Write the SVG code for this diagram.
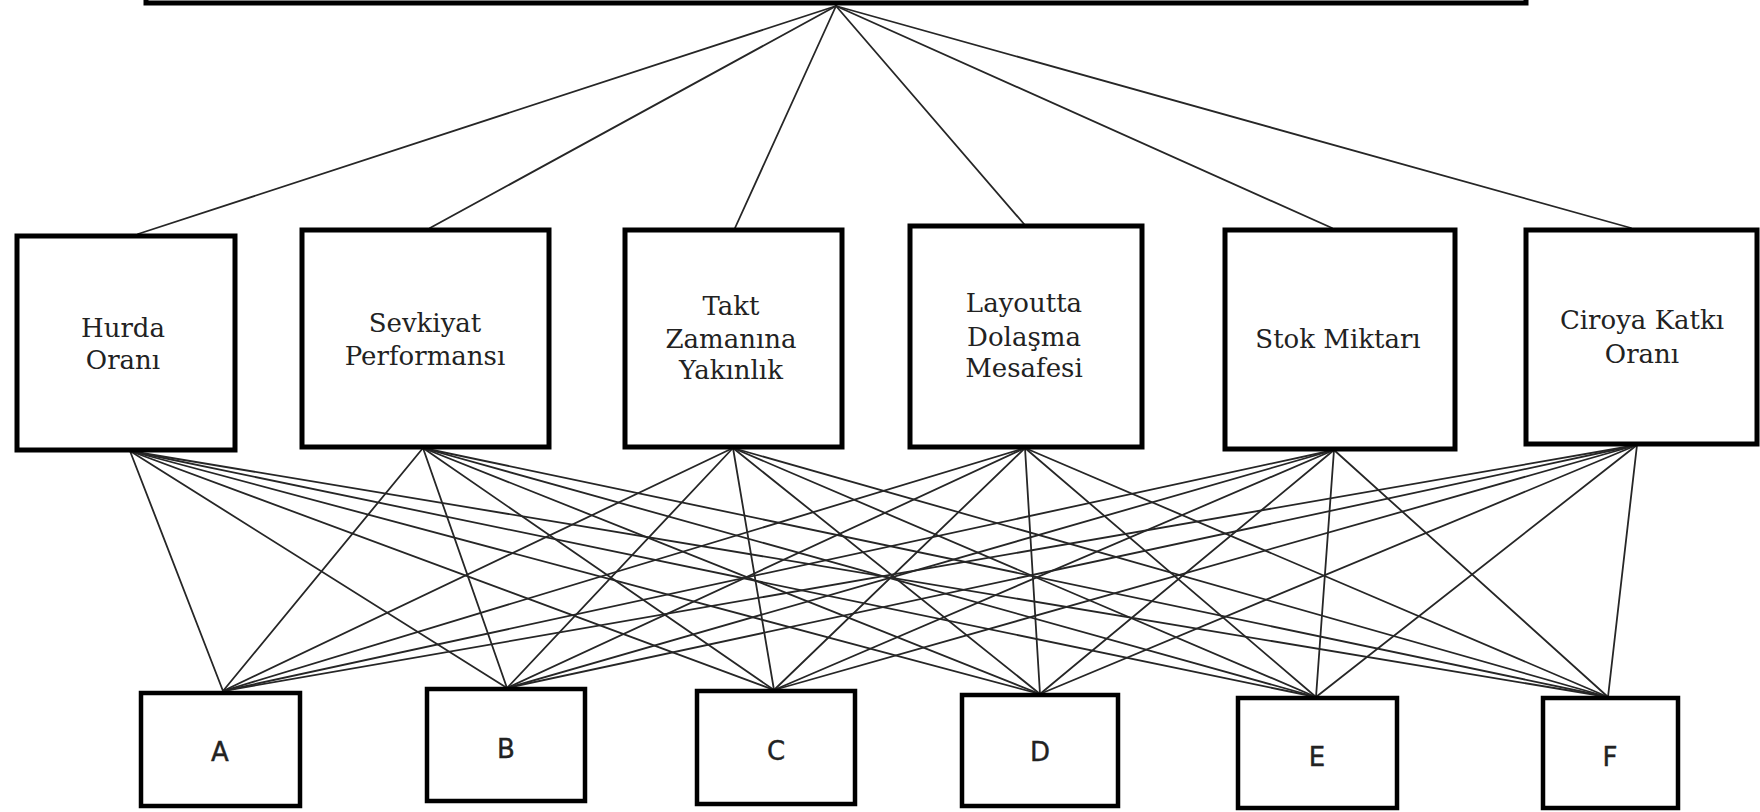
<svg xmlns="http://www.w3.org/2000/svg" width="1760" height="812" viewBox="0 0 1760 812">
  <style>
    .box { fill: #ffffff; stroke: #000000; stroke-width: 5; }
    .small { fill: #ffffff; stroke: #000000; stroke-width: 4.5; }
    .crit { font-family: "DejaVu Serif", "Liberation Serif", serif; font-size: 26px; fill: #222222; text-anchor: middle; }
    .alt { font-family: "DejaVu Sans", "Liberation Sans", sans-serif; font-size: 26px; fill: #222222; stroke: #222222; stroke-width: 0.4; text-anchor: middle; }
    .link { stroke: #262626; stroke-width: 1.8; fill: none; stroke-linecap: round; }
  </style>

  <!-- connectors -->
  <g id="connectors">
    <!-- goal to criteria -->
    <line class="link" x1="836" y1="6" x2="138" y2="234"/>
    <line class="link" x1="836" y1="6" x2="430" y2="228"/>
    <line class="link" x1="836" y1="6" x2="735" y2="228"/>
    <line class="link" x1="836" y1="6" x2="1024" y2="224"/>
    <line class="link" x1="836" y1="6" x2="1332" y2="228"/>
    <line class="link" x1="836" y1="6" x2="1631" y2="228"/>

    <!-- Hurda Oranı to alternatives -->
    <line class="link" x1="130" y1="451" x2="223" y2="691"/>
    <line class="link" x1="130" y1="451" x2="507" y2="688"/>
    <line class="link" x1="130" y1="451" x2="774" y2="690"/>
    <line class="link" x1="130" y1="451" x2="1040" y2="694"/>
    <line class="link" x1="130" y1="451" x2="1316" y2="697"/>
    <line class="link" x1="130" y1="451" x2="1608" y2="697"/>

    <!-- Sevkiyat Performansı to alternatives -->
    <line class="link" x1="423" y1="448" x2="223" y2="691"/>
    <line class="link" x1="423" y1="448" x2="507" y2="688"/>
    <line class="link" x1="423" y1="448" x2="774" y2="690"/>
    <line class="link" x1="423" y1="448" x2="1040" y2="694"/>
    <line class="link" x1="423" y1="448" x2="1316" y2="697"/>
    <line class="link" x1="423" y1="448" x2="1608" y2="697"/>

    <!-- Takt Zamanına Yakınlık to alternatives -->
    <line class="link" x1="733" y1="448" x2="223" y2="691"/>
    <line class="link" x1="733" y1="448" x2="507" y2="688"/>
    <line class="link" x1="733" y1="448" x2="774" y2="690"/>
    <line class="link" x1="733" y1="448" x2="1040" y2="694"/>
    <line class="link" x1="733" y1="448" x2="1316" y2="697"/>
    <line class="link" x1="733" y1="448" x2="1608" y2="697"/>

    <!-- Layoutta Dolaşma Mesafesi to alternatives -->
    <line class="link" x1="1025" y1="448" x2="223" y2="691"/>
    <line class="link" x1="1025" y1="448" x2="507" y2="688"/>
    <line class="link" x1="1025" y1="448" x2="774" y2="690"/>
    <line class="link" x1="1025" y1="448" x2="1040" y2="694"/>
    <line class="link" x1="1025" y1="448" x2="1316" y2="697"/>
    <line class="link" x1="1025" y1="448" x2="1608" y2="697"/>

    <!-- Stok Miktarı to alternatives -->
    <line class="link" x1="1334" y1="450" x2="223" y2="691"/>
    <line class="link" x1="1334" y1="450" x2="507" y2="688"/>
    <line class="link" x1="1334" y1="450" x2="774" y2="690"/>
    <line class="link" x1="1334" y1="450" x2="1040" y2="694"/>
    <line class="link" x1="1334" y1="450" x2="1316" y2="697"/>
    <line class="link" x1="1334" y1="450" x2="1608" y2="697"/>

    <!-- Ciroya Katkı Oranı to alternatives -->
    <line class="link" x1="1637" y1="445" x2="223" y2="691"/>
    <line class="link" x1="1637" y1="445" x2="507" y2="688"/>
    <line class="link" x1="1637" y1="445" x2="774" y2="690"/>
    <line class="link" x1="1637" y1="445" x2="1040" y2="694"/>
    <line class="link" x1="1637" y1="445" x2="1316" y2="697"/>
    <line class="link" x1="1637" y1="445" x2="1608" y2="697"/>
  </g>

  <!-- goal box (runs off the top edge) -->
  <g id="goal">
    <rect class="box" x="146" y="-30" width="1380" height="33" stroke-width="6"/>
  </g>

  <!-- criteria -->
  <g id="crit-hurda">
    <rect class="box" x="17" y="236" width="218" height="214"/>
    <text class="crit" x="123" y="337">Hurda</text>
    <text class="crit" x="123" y="369">Oranı</text>
  </g>
  <g id="crit-sevkiyat">
    <rect class="box" x="302" y="230" width="247" height="217"/>
    <text class="crit" x="425" y="332">Sevkiyat</text>
    <text class="crit" x="425" y="365">Performansı</text>
  </g>
  <g id="crit-takt">
    <rect class="box" x="625" y="230" width="217" height="217"/>
    <text class="crit" x="731" y="315">Takt</text>
    <text class="crit" x="731" y="348">Zamanına</text>
    <text class="crit" x="731" y="379">Yakınlık</text>
  </g>
  <g id="crit-layout">
    <rect class="box" x="910" y="226" width="232" height="221"/>
    <text class="crit" x="1024" y="312">Layoutta</text>
    <text class="crit" x="1024" y="346">Dolaşma</text>
    <text class="crit" x="1024" y="377">Mesafesi</text>
  </g>
  <g id="crit-stok">
    <rect class="box" x="1225" y="230" width="230" height="219"/>
    <text class="crit" x="1338" y="348">Stok Miktarı</text>
  </g>
  <g id="crit-ciro">
    <rect class="box" x="1526" y="230" width="231" height="214"/>
    <text class="crit" x="1642" y="329">Ciroya Katkı</text>
    <text class="crit" x="1642" y="363">Oranı</text>
  </g>

  <!-- alternatives -->
  <g id="alt-a">
    <rect class="small" x="141" y="693" width="159" height="113"/>
    <text class="alt" x="220" y="761">A</text>
  </g>
  <g id="alt-b">
    <rect class="small" x="427" y="689" width="158" height="112"/>
    <text class="alt" x="506" y="758">B</text>
  </g>
  <g id="alt-c">
    <rect class="small" x="697" y="691" width="158" height="113"/>
    <text class="alt" x="776" y="760">C</text>
  </g>
  <g id="alt-d">
    <rect class="small" x="962" y="695" width="156" height="111"/>
    <text class="alt" x="1040" y="761">D</text>
  </g>
  <g id="alt-e">
    <rect class="small" x="1238" y="698" width="159" height="110"/>
    <text class="alt" x="1317" y="766">E</text>
  </g>
  <g id="alt-f">
    <rect class="small" x="1543" y="698" width="135" height="110"/>
    <text class="alt" x="1610" y="766">F</text>
  </g>
</svg>
